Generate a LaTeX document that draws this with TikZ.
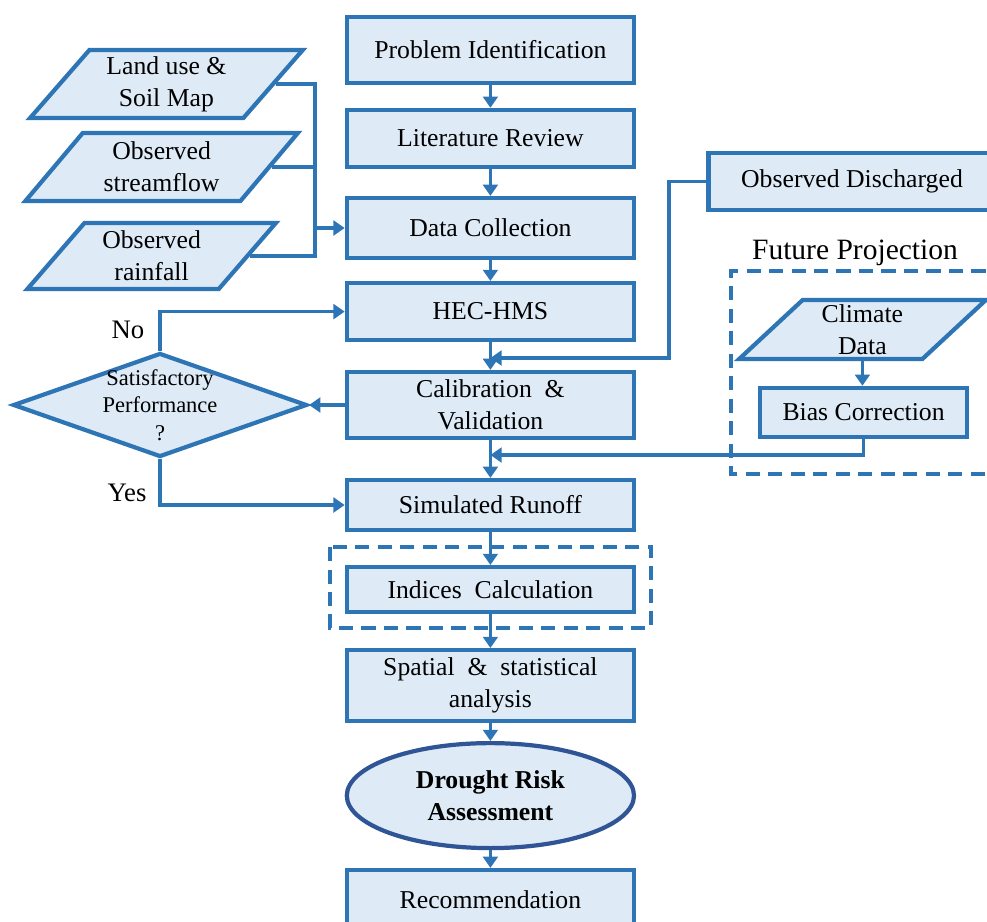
\documentclass[tikz,border=0pt]{standalone}
\usepackage{fontspec}
\setmainfont{Liberation Serif}
\usetikzlibrary{shapes.geometric,arrows.meta}

\definecolor{flowblue}{RGB}{46,117,182}
\definecolor{flowfill}{RGB}{222,235,247}
\definecolor{ovalblue}{RGB}{47,85,151}

\tikzset{
  procbox/.style={draw=flowblue, fill=flowfill, line width=3pt, minimum width=7.18cm,
    align=center, inner sep=2pt, font=\fontsize{18.3}{23}\selectfont},
  databox/.style={trapezium, trapezium left angle=51, trapezium right angle=129,
    trapezium stretches=true, draw=flowblue, fill=flowfill, line width=3pt,
    align=center, inner sep=1pt, font=\fontsize{18.3}{23}\selectfont},
  link/.style={draw=flowblue, line width=2.6pt},
  flow/.style={link, -{Triangle[length=8pt,width=10.5pt]}},
  groupbox/.style={draw=flowblue, line width=2.8pt, dash pattern=on 10pt off 6pt},
  bigtext/.style={font=\fontsize{19}{23}\selectfont}
}

\begin{document}
\begin{tikzpicture}
  \useasboundingbox (0,0) rectangle (24.675,-23.025);

  % main column
  \node[procbox, minimum height=1.65cm] (prob) at (12.26,-1.25) {Problem Identification};
  \node[procbox, minimum height=1.425cm] (lit) at (12.26,-3.46) {Literature Review};
  \node[procbox, minimum height=1.5cm] (data) at (12.26,-5.7) {Data Collection};
  \node[procbox, minimum height=1.425cm] (hec) at (12.26,-7.79) {HEC-HMS};
  \node[procbox, minimum height=1.65cm] (calib) at (12.26,-10.125) {Calibration \ \&\\Validation};
  \node[procbox, minimum height=1.25cm] (sim) at (12.26,-12.625) {Simulated Runoff};
  \node[procbox, minimum height=1.125cm] (ind) at (12.26,-14.74) {Indices \ Calculation};
  \node[procbox, minimum height=1.775cm] (spat) at (12.26,-17.14) {Spatial \ \& \ statistical\\analysis};
  \node[ellipse, draw=ovalblue, fill=flowfill, line width=3pt, minimum width=7.18cm,
    minimum height=2.625cm, align=center, inner sep=0pt,
    font=\fontsize{18.3}{23}\selectfont\bfseries] (risk) at (12.26,-19.89) {Drought Risk\\Assessment};
  \node[procbox, minimum height=1.5cm] (rec) at (12.26,-22.5) {Recommendation};

  % input data
  \node[databox, minimum width=6.825cm, minimum height=1.7cm] (land) at (4.16,-2.1) {Land use \&\\Soil Map};
  \node[databox, minimum width=6.825cm, minimum height=1.7cm] (stream) at (4.04,-4.175) {Observed\\streamflow};
  \node[databox, minimum width=6.225cm, minimum height=1.65cm] (rain) at (3.79,-6.4) {Observed\\rainfall};
  \coordinate (merge) at (7.875,-5.7);

  % decision
  \node[diamond, draw=flowblue, fill=flowfill, line width=3pt, minimum width=7.35cm,
    minimum height=2.6cm, inner sep=0pt,
    label={[align=center, font=\fontsize{16}{19.5}\selectfont]center:Satisfactory\\Performance\\?}] (dec) at (4.0,-10.125) {};
  \node[bigtext] (no) at (3.2,-8.25) {No};
  \node[bigtext] (yes) at (3.175,-12.325) {Yes};

  % observed discharge and future projection
  \node[procbox, minimum height=1.425cm] (obs) at (21.3,-4.54) {Observed Discharged};
  \coordinate (obsin) at (12.26,-8.95);
  \node[font=\fontsize{21}{24}\selectfont] (fut) at (21.375,-6.33) {Future Projection};
  \draw[groupbox] (25.2,-6.775) -- (18.275,-6.775) -- (18.275,-11.85) -- (25.2,-11.85);
  \node[databox, trapezium left angle=50, trapezium right angle=130, minimum width=6.175cm,
    minimum height=1.475cm] (clim) at (21.56,-8.24) {Climate\\Data};
  \node[procbox, minimum width=5.175cm, minimum height=1.225cm] (bias) at (21.59,-10.31) {Bias Correction};
  \coordinate (biasin) at (12.26,-11.375);

  % indices group
  \draw[groupbox] (8.25,-13.675) rectangle (16.275,-15.7);

  % connectors
  \draw[flow] (prob) -- (lit);
  \draw[flow] (lit) -- (data);
  \draw[flow] (data) -- (hec);
  \draw[flow] (hec) -- (calib);
  \draw[flow] (calib) -- (sim);
  \draw[flow] (sim) -- (ind);
  \draw[flow] (ind) -- (spat);
  \draw[flow] (spat) -- (risk);
  \draw[flow] (risk) -- (rec);
  \draw[link] (land.east) -| (merge);
  \draw[link] (stream.east) -| (merge);
  \draw[link] (rain.east) -| (merge);
  \draw[flow] (merge) -- (data.west);
  \draw[flow] (calib.west) -- (dec.east);
  \draw[flow] (dec.north) |- (hec.west);
  \draw[flow] (dec.south) |- (sim.west);
  \draw[flow] (obs.west) -- ++(-0.94,0) |- (obsin);
  \draw[flow] (clim.south) -- (clim.south |- bias.north);
  \draw[flow] (bias.south) |- (biasin);
\end{tikzpicture}
\end{document}
